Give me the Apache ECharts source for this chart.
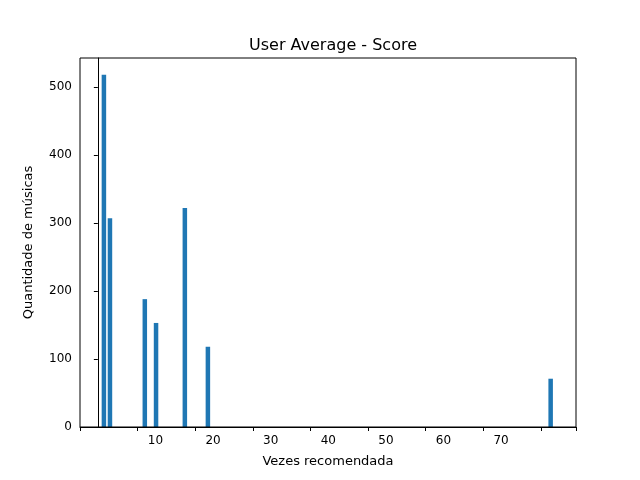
<!DOCTYPE html>
<html>
<head>
<meta charset="utf-8">
<script src="https://cdn.jsdelivr.net/npm/echarts@6/dist/echarts.min.js"></script>
</head>
<body style="margin:0">
<div id="main" style="width:640px;height:480px"></div>
<script>
// bin centres (Vezes recomendada) and counts
const binCenters = [1.05, 2.1, 8.15, 10.1, 15.1, 19.1, 78.6]
const counts = [518, 307, 188, 153, 322, 118, 71]
const xTicks = [0, 10, 20, 30, 40, 50, 60, 70, 80]
const yTicks = [0, 100, 200, 300, 400, 500]

const chart = echarts.init(document.getElementById('main'))
const font = 'DejaVu Sans'
chart.setOption({
    animation: false,
    title: {
        text: 'User Average - Score', left: 328, top: 33, textAlign: 'center',
        textStyle: { fontFamily: font, fontSize: 16, fontWeight: 'normal', color: '#000' }
    },
    grid: { left: 80, right: 64, top: 58, bottom: 53 },
    xAxis: {
        type: 'value', min: -3.1, max: 83, interval: 10,
        name: 'Vezes recomendada', nameLocation: 'middle', nameGap: 28,
        nameTextStyle: { fontFamily: font, fontSize: 13, color: '#000' },
        axisLine: { onZero: false, lineStyle: { color: '#000' } },
        axisTick: { show: true, lineStyle: { color: '#000' }, length: 4 },
        axisLabel: {
            fontFamily: font, fontSize: 12, color: '#000', showMinLabel: false, showMaxLabel: false,
            customValues: xTicks
        },
        splitLine: { show: false }
    },
    yAxis: {
        type: 'value', min: 0, max: 542.6,
        name: 'Quantidade de músicas', nameLocation: 'middle', nameGap: 45,
        nameTextStyle: { fontFamily: font, fontSize: 13, color: '#000' },
        axisLine: { show: true, lineStyle: { color: '#000' } },
        axisTick: { show: true, lineStyle: { color: '#000' }, length: 4, customValues: yTicks },
        axisLabel: { fontFamily: font, fontSize: 12, color: '#000', customValues: yTicks },
        splitLine: { show: false }
    },
    series: [{
        type: 'bar', barWidth: 4.5,
        itemStyle: { color: '#1f77b4' },
        data: binCenters.map((c, i) => [c, counts[i]])
    }],
    graphic: [{
        type: 'rect', shape: { x: 80, y: 58, width: 496, height: 369 },
        style: { fill: 'none', stroke: '#000', lineWidth: 1 }, z: 10
    }]
})
</script>
</body>
</html>
